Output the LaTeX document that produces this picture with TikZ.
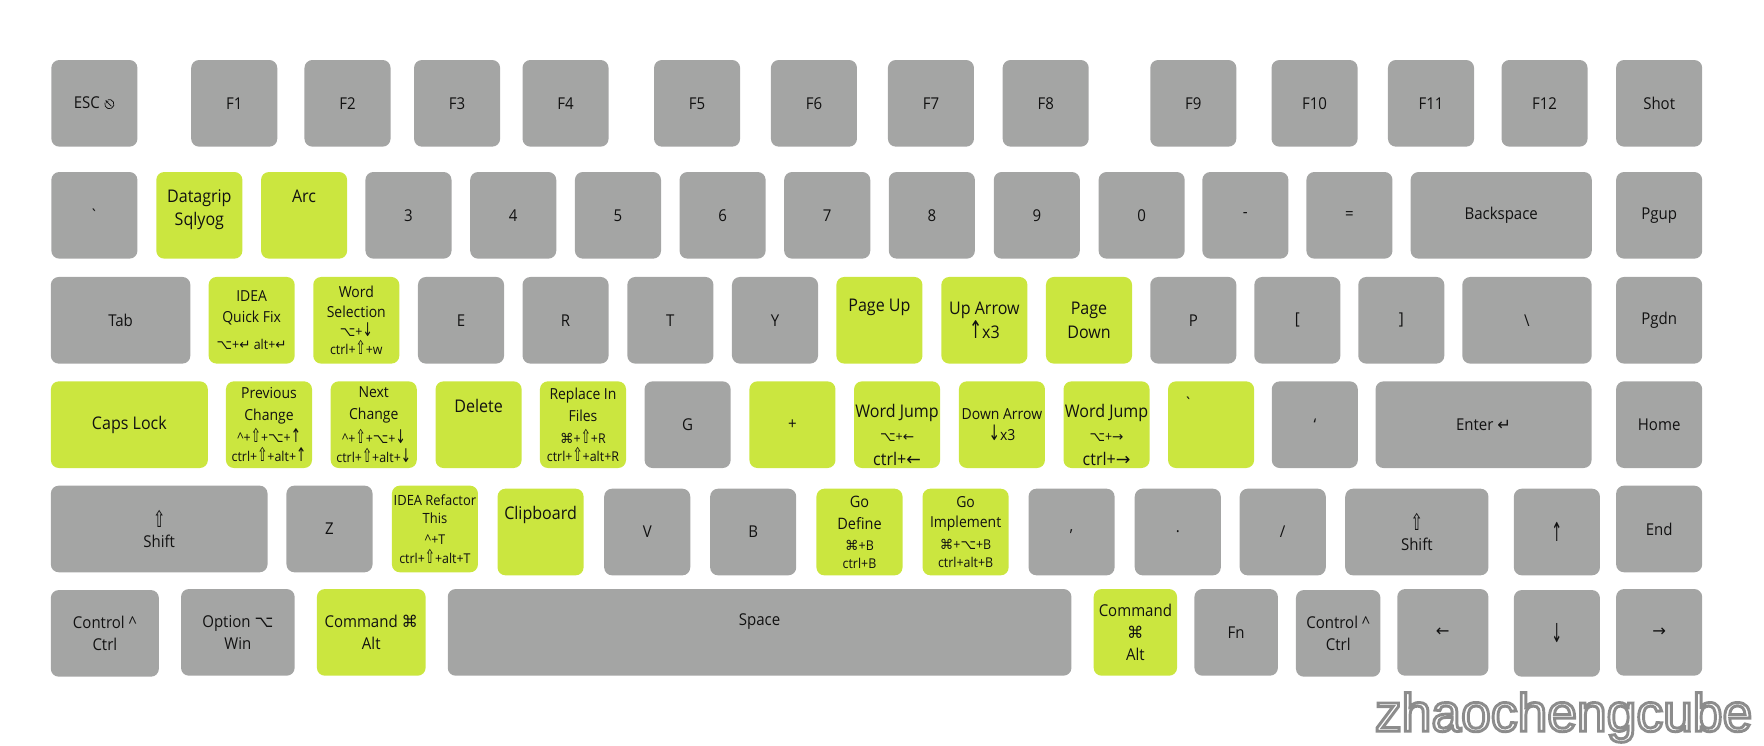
\documentclass[tikz,border=0pt]{standalone}
\usepackage{fontspec}
\usepackage{graphicx}
\usetikzlibrary{arrows.meta}
\setmainfont{Open Sans}[FakeStretch=0.92]
\newfontfamily\symfont{DejaVu Sans}
\newfontfamily\markfont{Liberation Sans}
\definecolor{keygrey}{HTML}{A4A5A4}
\definecolor{keygreen}{HTML}{CBE63F}
\definecolor{keyink}{HTML}{111111}
\newcommand\sy[1]{{\symfont #1}}
\newcommand\tall[1]{\scalebox{0.9}[1.4]{\sy{#1}}}
\newcommand\cb{\fontsize{12}{15}\selectfont}
% outlined letters: white fill, grey stroke
\newcommand\outlined[1]{\special{pdf:literal direct q 2 Tr 2.6 w 0.55 0.55 0.55 RG}#1\special{pdf:literal direct Q}}
% the escape sign has no glyph in the fonts at hand, so it is drawn
\newcommand\escsym{\tikz[x=1pt, y=1pt, baseline=-4.1pt, line width=0.65pt, sharp corners]{
    \draw (160:4.1) arc (160:470:4.1);
    \draw[-{Stealth[length=2.6pt, width=2.6pt]}] (1.8, -1.8) -- (135:4.9);}}

\begin{document}
\begin{tikzpicture}[
    x=1pt, y=1pt,
    keycap/.style={rounded corners=7pt, fill=keygrey, minimum width=76.5pt, minimum height=77pt,
        inner sep=0pt, align=center, text=keyink, font=\fontsize{14.5}{19.3}\selectfont},
    hotcap/.style={keycap, fill=keygreen},
    keyface/.style={inner sep=0pt, align=center, text=keyink, font=\fontsize{14.5}{19.3}\selectfont},
    bigtext/.style={font=\fontsize{15.5}{21}\selectfont},
    midtext/.style={font=\fontsize{13.5}{18}\selectfont},
    brandtext/.style={font=\markfont\fontsize{47.5}{50}\selectfont, inner sep=0pt, text=white}]

    \useasboundingbox (0, 0) rectangle (1568, -663);

    % ----- function row
    \node[keycap] (esc) at (83.9, -91.85) {ESC \escsym};
    \foreach \n/\x in {1/208.2, 2/308.9, 3/406.3, 4/502.7, 5/619.6, 6/723.5, 7/827.5, 8/929.5,
                       9/1060.7, 10/1168.5, 11/1272, 12/1372.9} {
        \node[keycap] (f\n) at (\x, -91.85) {F\n};
    }
    \node[keycap] (shot) at (1474.8, -91.85) {Shot};

    % ----- number row
    \node[keycap] (grave) at (83.9, -191.4) {\textasciigrave};
    \node[hotcap] (datagrip) at (177.2, -191.4) {};
    \node[keyface, bigtext, yshift=5pt] (datagripface) at (datagrip) {Datagrip\\Sqlyog};
    \node[hotcap] (arc) at (270.3, -191.4) {};
    \node[keyface, bigtext, yshift=16.5pt] (arcface) at (arc) {Arc};
    \foreach \k/\x in {3/363.1, 4/456.2, 5/549.3, 6/642.3, 7/735.3, 8/828.3, 9/921.6, 0/1014.8} {
        \node[keycap] (n\k) at (\x, -191.4) {\k};
    }
    \node[keycap] (minus) at (1107, -191.4) {-};
    \node[keycap] (equal) at (1199.5, -191.4) {=};
    \node[keycap, minimum width=161pt] (backspace) at (1334.4, -191.4) {Backspace};
    \node[keycap] (pgup) at (1474.8, -191.4) {Pgup};

    % ----- tab row
    \node[keycap, minimum width=124pt] (tab) at (107.2, -284.7) {Tab};
    \node[hotcap, midtext] (quickfix) at (223.7, -284.7)
        {IDEA\\Quick Fix\\[6.3pt]{\cb\sy{⌥}+\sy{↵} alt+\sy{↵}}};
    \node[hotcap, midtext] (wordsel) at (316.7, -284.7)
        {Word\\Selection\\[-1.7pt]{\cb\sy{⌥}+\tall{↓}}\\[-1.7pt]{\cb ctrl+\tall{⇧}+w}};
    \node[keycap] (keye) at (409.8, -284.7) {E};
    \node[keycap] (keyr) at (502.7, -284.7) {R};
    \node[keycap] (keyt) at (595.9, -284.7) {T};
    \node[keycap] (keyy) at (688.9, -284.7) {Y};
    \node[hotcap] (pageup) at (781.7, -284.7) {};
    \node[keyface, bigtext, yshift=11.5pt] (pageupface) at (pageup) {Page Up};
    \node[hotcap, bigtext] (uparrow) at (875, -284.7) {Up Arrow\\\tall{↑}x3};
    \node[hotcap, bigtext] (pagedown) at (968, -284.7) {Page\\Down};
    \node[keycap] (keyp) at (1060.7, -284.7) {P};
    \node[keycap] (lbracket) at (1153.2, -284.7) {{[}};
    \node[keycap] (rbracket) at (1245.6, -284.7) {{]}};
    \node[keycap, minimum width=115pt] (backslash) at (1357.3, -284.7) {\textbackslash};
    \node[keycap] (pgdn) at (1474.8, -284.7) {Pgdn};

    % ----- home row
    \node[hotcap, bigtext, minimum width=139.5pt] (capslock) at (115, -377.5) {Caps Lock};
    \node[hotcap, midtext] (prevchange) at (239.1, -377.5)
        {Previous\\[1.8pt]Change\\[1.6pt]{\cb\textasciicircum+\tall{⇧}+\sy{⌥}+\tall{↑}}\\[-1.1pt]{\cb ctrl+\tall{⇧}+alt+\tall{↑}}};
    \node[hotcap, midtext] (nextchange) at (332.2, -377.5)
        {Next\\[1.8pt]Change\\[3pt]{\cb\textasciicircum+\tall{⇧}+\sy{⌥}+\tall{↓}}\\[-0.5pt]{\cb ctrl+\tall{⇧}+alt+\tall{↓}}};
    \node[hotcap] (delete) at (425.4, -377.5) {};
    \node[keyface, bigtext, yshift=16.5pt] (deleteface) at (delete) {Delete};
    \node[hotcap, midtext] (replace) at (518.2, -377.5)
        {Replace In\\[1.8pt]Files\\[1.6pt]{\cb\sy{⌘}+\tall{⇧}+R}\\[-1.7pt]{\cb ctrl+\tall{⇧}+alt+R}};
    \node[keycap] (keyg) at (611.2, -377.5) {G};
    \node[hotcap] (plus) at (704.4, -377.5) {+};
    \node[hotcap] (jumpleft) at (797.4, -377.5) {};
    \node[keyface, bigtext, yshift=-9.3pt] (jumpleftface) at (jumpleft)
        {Word Jump\\{\cb\sy{⌥}+\sy{←}}\\[0.7pt]ctrl+\sy{←}};
    \node[hotcap, midtext] (downarrow) at (890.6, -377.5) {Down Arrow\\\tall{↓}x3};
    \node[hotcap] (jumpright) at (983.6, -377.5) {};
    \node[keyface, bigtext, yshift=-9.3pt] (jumprightface) at (jumpright)
        {Word Jump\\{\cb\sy{⌥}+\sy{→}}\\[0.7pt]ctrl+\sy{→}};
    \node[hotcap] (semicolon) at (1076.5, -377.5) {};
    \node[keyface, xshift=-20pt, yshift=19pt] (semicolonface) at (semicolon) {\textasciigrave};
    \node[keycap] (quote) at (1168.7, -377.5) {‘};
    \node[keycap, minimum width=192pt] (enter) at (1318.7, -377.5) {Enter \sy{↵}};
    \node[keycap] (home) at (1474.8, -377.5) {Home};

    % ----- shift row
    \node[keycap, minimum width=192.6pt] (lshift) at (141.5, -470.2) {\tall{⇧}\\[-2.3pt]Shift};
    \node[keycap] (keyz) at (292.9, -470.2) {Z};
    \node[hotcap, font=\fontsize{12.5}{16}\selectfont] (refactor) at (386.6, -470.2)
        {IDEA Refactor\\This\\[3.2pt]{\cb\textasciicircum+T}\\[0.3pt]{\cb ctrl+\tall{⇧}+alt+T}};
    \node[hotcap] (clipboard) at (480.5, -472.9) {};
    \node[keyface, bigtext, yshift=15pt] (clipboardface) at (clipboard) {Clipboard};
    \node[keycap] (keyv) at (575.3, -472.9) {V};
    \node[keycap] (keyb) at (669.5, -472.9) {B};
    \node[hotcap, font=\fontsize{14}{19.9}\selectfont] (godefine) at (764, -472.9)
        {Go\\Define\\[-1.2pt]{\cb\sy{⌘}+B}\\[-4.5pt]{\cb ctrl+B}};
    \node[hotcap, midtext] (goimpl) at (858.3, -472.9)
        {Go\\[-0.3pt]Implement\\[2.2pt]{\cb\sy{⌘}+\sy{⌥}+B}\\[-2pt]{\cb ctrl+alt+B}};
    \node[keycap] (comma) at (952.5, -472.9) {,};
    \node[keycap] (period) at (1046.9, -472.9) {.};
    \node[keycap] (slash) at (1140.2, -472.9) {/};
    \node[keycap, minimum width=127.3pt] (rshift) at (1259.4, -472.9) {\tall{⇧}\\[-2.3pt]Shift};
    \node[keycap] (arrowup) at (1383.9, -472.9) {\scalebox{0.8}[1.6]{\sy{↑}}};
    \node[keycap] (endkey) at (1474.8, -470.2) {End};

    % ----- bottom row
    \node[keycap, minimum width=96pt] (lctrl) at (93.2, -563) {Control \textasciicircum\\Ctrl};
    \node[keycap, minimum width=101pt] (option) at (211.4, -562.1) {Option \sy{⌥}\\Win};
    \node[hotcap, minimum width=96.6pt] (lcmd) at (330, -562.1) {Command \sy{⌘}\\Alt};
    \node[keycap, minimum width=554.4pt] (space) at (675.2, -562.1) {};
    \node[keyface, yshift=10pt] (spaceface) at (space) {Space};
    \node[hotcap, minimum width=74.1pt] (rcmd) at (1009.2, -562.1) {Command\\\sy{⌘}\\Alt};
    \node[keycap, minimum width=74.2pt] (fn) at (1098.8, -562.1) {Fn};
    \node[keycap, minimum width=75.1pt] (rctrl) at (1189.5, -563) {Control \textasciicircum\\Ctrl};
    \node[keycap, minimum width=81pt] (arrowleft) at (1282.5, -562.1) {\sy{←}};
    \node[keycap] (arrowdown) at (1383.9, -563) {\scalebox{0.8}[1.6]{\sy{↓}}};
    \node[keycap] (arrowright) at (1474.8, -562.1) {\sy{→}};

    % ----- watermark
    \node[brandtext, anchor=base west] (brand) at (1222, -650) {\outlined{zhaochengcube}};
\end{tikzpicture}
\end{document}
